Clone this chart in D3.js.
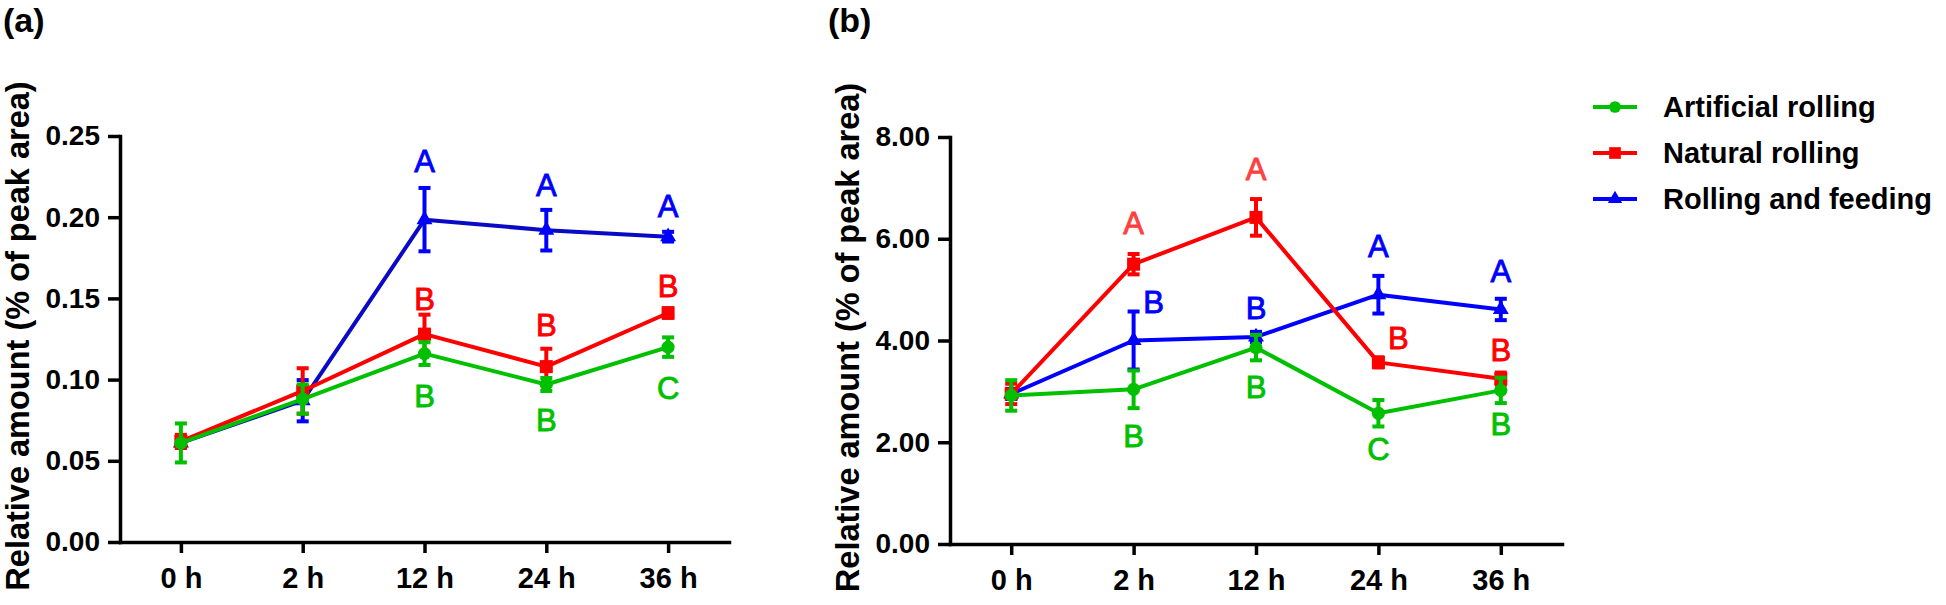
<!DOCTYPE html>
<html>
<head>
<meta charset="utf-8">
<script src="https://cdn.jsdelivr.net/npm/d3@7/dist/d3.min.js"></script>
<style>
  html, body { margin: 0; padding: 0; background: #fff; }
  svg { display: block; }
  text { font-family: Arial, "Liberation Sans", sans-serif; }
</style>
</head>
<body>
<svg id="chart" width="1946" height="605"></svg>
<script>
// ---------- data ----------
const times = ["0 h", "2 h", "12 h", "24 h", "36 h"];
const seriesNames = ["Artificial rolling", "Natural rolling", "Rolling and feeding"];

// panel (a)
const artificialA = [0.061, 0.088, 0.116, 0.097, 0.120];
const artificialErrA = [0.012, 0.009, 0.007, 0.004, 0.006];
const naturalA = [0.062, 0.093, 0.128, 0.108, 0.141];
const naturalErrA = [0.004, 0.014, 0.012, 0.011, 0.003];
const feedingA = [0.061, 0.087, 0.1985, 0.192, 0.188];
const feedingErrA = [0.003, 0.0127, 0.0195, 0.0125, 0.003];
const yTicksA = [0, 0.05, 0.10, 0.15, 0.20, 0.25];

// panel (b)
const artificialB = [2.92, 3.04, 3.86, 2.57, 3.02];
const artificialErrB = [0.30, 0.37, 0.25, 0.26, 0.25];
const naturalB = [2.95, 5.50, 6.42, 3.57, 3.25];
const naturalErrB = [0.20, 0.20, 0.36, 0.10, 0.12];
const feedingB = [2.95, 4.00, 4.07, 4.90, 4.61];
const feedingErrB = [0.10, 0.57, 0.10, 0.37, 0.21];
const yTicksB = [0, 2, 4, 6, 8];

// significance letters: [time, series index, letter, value where the letter sits, set beside]
const lettersA = [
  ["12 h", 2, "A", 0.235], ["12 h", 1, "B", 0.150], ["12 h", 0, "B", 0.090],
  ["24 h", 2, "A", 0.220], ["24 h", 1, "B", 0.134], ["24 h", 0, "B", 0.075],
  ["36 h", 2, "A", 0.207], ["36 h", 1, "B", 0.158], ["36 h", 0, "C", 0.095]
];
const lettersB = [
  ["2 h", 1, "A", 6.31], ["2 h", 2, "B", 4.76, true], ["2 h", 0, "B", 2.12],
  ["12 h", 1, "A", 7.37], ["12 h", 2, "B", 4.65], ["12 h", 0, "B", 3.08],
  ["24 h", 2, "A", 5.86], ["24 h", 1, "B", 4.06, true], ["24 h", 0, "C", 1.88],
  ["36 h", 2, "A", 5.37], ["36 h", 1, "B", 3.82], ["36 h", 0, "B", 2.37]
];

// ---------- styles ----------
const colors = ["#00c000", "#ff0000", "#0000ff"];
const lineColorsA = ["#00c000", "#ff0000", "#0a0ac4"];
const lineColorsB = ["#00c000", "#ff0000", "#0000ff"];
const shapes = [d3.symbolCircle, d3.symbolSquare, d3.symbolTriangle];
const shapeSizes = [135, 170, 110];
const yTitle = "Relative amount (% of peak area)";

const svg = d3.select("#chart");

const panels = [
  { label: "(a)", lx: 3, x0: 120, x1: 729, yTop: 136, yBot: 542, domain: [0, 0.25], ticks: yTicksA,
    values: [artificialA, naturalA, feedingA], errs: [artificialErrA, naturalErrA, feedingErrA],
    letters: lettersA, lineColors: lineColorsA },
  { label: "(b)", lx: 828, x0: 950, x1: 1562, yTop: 137, yBot: 544, domain: [0, 8], ticks: yTicksB,
    values: [artificialB, naturalB, feedingB], errs: [artificialErrB, naturalErrB, feedingErrB],
    letters: lettersB, lineColors: lineColorsB }
];

panels.forEach((p, pi) => {
  const x = d3.scalePoint().domain(times).range([p.x0, p.x1]).padding(0.5);
  const y = d3.scaleLinear().domain(p.domain).range([p.yBot, p.yTop]);
  const g = svg.append("g");

  // panel label
  g.append("text").attr("x", p.lx).attr("y", 32)
    .attr("font-size", 34).attr("font-weight", "bold").text(p.label);

  // y title
  g.append("text")
    .attr("transform", `translate(${p.x0 - 91},${(p.yTop + p.yBot) / 2 - 3}) rotate(-90)`)
    .attr("text-anchor", "middle")
    .attr("font-size", 32.5).attr("font-weight", "bold")
    .text(yTitle);

  // axes
  const yAxis = d3.axisLeft(y).tickValues(p.ticks).tickFormat(d3.format(".2f"))
    .tickSizeInner(12).tickSizeOuter(0).tickPadding(8);
  const ya = g.append("g").attr("transform", `translate(${p.x0},0)`).call(yAxis);
  const xAxis = d3.axisBottom(x).tickSizeInner(11).tickSizeOuter(0).tickPadding(14);
  const xa = g.append("g").attr("transform", `translate(0,${p.yBot})`).call(xAxis);
  [ya, xa].forEach(a => {
    a.selectAll("path, line").attr("stroke", "#000").attr("stroke-width", 3.5);
    a.selectAll("text").attr("fill", "#000").attr("font-size", 28)
      .attr("font-weight", "bold").attr("font-family", 'Arial, "Liberation Sans", sans-serif');
  });
  xa.selectAll("text").attr("font-size", 29);
  ya.select(".domain").attr("stroke-linecap", "square");
  xa.select(".domain").attr("stroke-linecap", "square");

  // series, drawn blue first, then red, then green
  [2, 1, 0].forEach(si => {
    const vals = p.values[si], errs = p.errs[si];
    const sg = g.append("g");
    const line = d3.line().x((d, i) => x(times[i])).y(d => y(d));
    sg.append("path").datum(vals).attr("d", line)
      .attr("fill", "none").attr("stroke", p.lineColors[si]).attr("stroke-width", 4)
      .attr("stroke-linejoin", "round");
    // error bars
    vals.forEach((v, i) => {
      const cx = x(times[i]);
      const e = errs[i];
      const eb = sg.append("g").attr("stroke", colors[si]).attr("stroke-width", 4);
      eb.append("line").attr("x1", cx).attr("x2", cx).attr("y1", y(v - e)).attr("y2", y(v + e));
      eb.append("line").attr("x1", cx - 6).attr("x2", cx + 6).attr("y1", y(v + e)).attr("y2", y(v + e));
      eb.append("line").attr("x1", cx - 6).attr("x2", cx + 6).attr("y1", y(v - e)).attr("y2", y(v - e));
    });
    // markers
    sg.selectAll("path.m").data(vals).join("path").attr("class", "m")
      .attr("transform", (d, i) => `translate(${x(times[i])},${y(d)})`)
      .attr("d", d3.symbol().type(shapes[si]).size(shapeSizes[si]))
      .attr("fill", colors[si]);
  });

  // letters
  p.letters.forEach(([t, si, txt, v, beside]) => {
    let col = colors[si];
    if (pi === 1 && si === 1 && txt === "A") col = "#ff4040";
    g.append("text")
      .attr("x", x(t) + (beside ? 20 : 0))
      .attr("y", y(v))
      .attr("dy", "0.36em")
      .attr("text-anchor", "middle")
      .attr("font-size", 31)
      .attr("fill", col)
      .attr("stroke", col)
      .attr("stroke-width", 0.9)
      .text(txt);
  });
});

// legend
const legendRows = [0, 1, 2];
const lg = svg.append("g");
legendRows.forEach(si => {
  const cy = 107 + si * 46;
  lg.append("line").attr("x1", 1593).attr("x2", 1637).attr("y1", cy).attr("y2", cy)
    .attr("stroke", colors[si]).attr("stroke-width", 4);
  lg.append("path").attr("transform", `translate(1615,${cy})`)
    .attr("d", d3.symbol().type(shapes[si]).size(shapeSizes[si] * 0.8)).attr("fill", colors[si]);
  lg.append("text").attr("x", 1663).attr("y", cy).attr("dy", "0.35em")
    .attr("font-size", 29).attr("font-weight", "bold").attr("fill", "#000")
    .text(seriesNames[si]);
});
</script>
</body>
</html>
